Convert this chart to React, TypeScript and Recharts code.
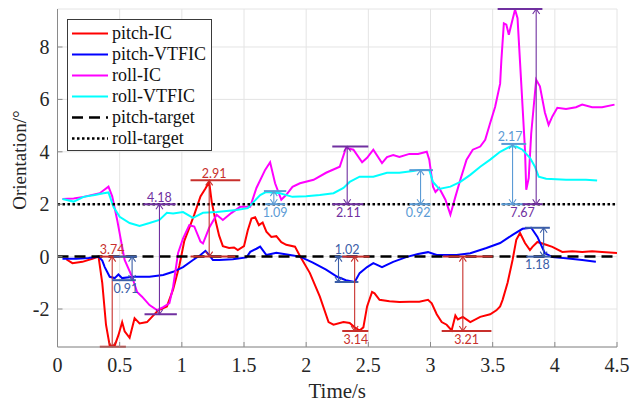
import React from "react";
import {
  LineChart,
  Line,
  XAxis,
  YAxis,
  CartesianGrid,
  Legend,
  ReferenceLine,
} from "recharts";

// time ticks and orientation ticks
const timeTicks = [0, 0.5, 1, 1.5, 2, 2.5, 3, 3.5, 4, 4.5];
const angleTicks = [-2, 0, 2, 4, 6, 8];

// pitch-IC
const pitchIcT = [
  0.07, 0.12, 0.2, 0.28, 0.33, 0.36, 0.39, 0.42, 0.46, 0.49, 0.52, 0.54, 0.58, 0.62, 0.66, 0.72,
  0.76, 0.81, 0.88, 0.93, 0.98, 1.02, 1.06, 1.1, 1.15, 1.19, 1.22, 1.24, 1.27, 1.3, 1.33, 1.38,
  1.42, 1.45, 1.5, 1.53, 1.56, 1.59, 1.62, 1.65, 1.68, 1.72, 1.76, 1.8, 1.84, 1.91, 1.95, 2.03,
  2.11, 2.18, 2.22, 2.3, 2.35, 2.39, 2.43, 2.46, 2.49, 2.53, 2.55, 2.59, 2.67, 2.75, 2.83, 2.91,
  2.98, 3.01, 3.05, 3.09, 3.13, 3.17, 3.2, 3.22, 3.26, 3.32, 3.4, 3.48, 3.53, 3.56, 3.58, 3.62,
  3.66, 3.69, 3.72, 3.76, 3.8, 3.82, 3.86, 3.93, 3.98, 4.06, 4.14, 4.22, 4.3, 4.38, 4.5,
];
const pitchIcV = [
  -0.1, -0.25, -0.2, -0.08, 0, -1.0, -2.6, -3.4, -3.4, -3.0, -2.5, -2.85, -3.1, -2.35, -2.55, -2.5,
  -2.3, -2.05, -1.9, -1.25, -0.35, 0.6, 1.1, 1.6, 2.3, 2.6, 2.85, 2.1, 1.4, 0.8, 0.4, 0.33,
  0.35, 0.25, 0.4, 1.0, 1.45, 1.5, 1.2, 1.3, 0.95, 0.75, 0.78, 0.55, 0.45, 0.38, 0.02, -0.63,
  -1.53, -2.5, -2.6, -2.5, -2.53, -2.7, -2.82, -2.7, -1.9, -1.35, -1.4, -1.65, -1.7, -1.73, -1.72, -1.72,
  -1.65, -1.78, -2.2, -2.5, -2.6, -2.82, -2.25, -2.4, -2.3, -2.5, -2.3, -2.2, -2.05, -1.9, -1.65, -1.0,
  -0.13, 0.64, 0.9, 0.52, 0.25, 0.37, 0.56, 0.45, 0.37, 0.18, 0.2, 0.18, 0.2, 0.18, 0.14,
];

// pitch-VTFIC
const pitchVtT = [
  0.04, 0.15, 0.25, 0.33, 0.36, 0.38, 0.42, 0.46, 0.49, 0.52, 0.61, 0.74, 0.85, 0.93, 1.01, 1.09,
  1.15, 1.19, 1.22, 1.25, 1.3, 1.41, 1.52, 1.55, 1.6, 1.63, 1.68, 1.76, 1.87, 1.95, 2.05, 2.16,
  2.25, 2.32, 2.39, 2.43, 2.49, 2.54, 2.61, 2.7, 2.81, 2.9, 2.98, 3.05, 3.21, 3.32, 3.45, 3.56,
  3.66, 3.74, 3.81, 3.86, 3.92, 3.98, 4.09, 4.22, 4.33,
];
const pitchVtV = [
  -0.08, -0.08, -0.05, 0, -0.15, -0.4, -0.77, -0.82, -0.68, -0.82, -0.77, -0.77, -0.7, -0.58, -0.4, -0.13,
  0.06, 0.22, 0.06, -0.13, -0.13, -0.1, -0.03, 0.18, 0.3, 0.38, 0.06, 0.15, 0.06, 0, -0.22, -0.5,
  -0.77, -0.9, -0.97, -0.63, -0.4, -0.25, -0.4, -0.2, -0.01, 0.1, 0.17, 0.06, 0.06, 0.13, 0.33, 0.52,
  0.83, 1.06, 1.1, 0.75, 0.13, -0.02, -0.06, -0.13, -0.2,
];

// roll-IC
const rollIcT = [
  0.04, 0.13, 0.21, 0.34, 0.41, 0.44, 0.48, 0.52, 0.54, 0.6, 0.64, 0.68, 0.74, 0.8, 0.85, 0.9,
  0.93, 0.97, 1.01, 1.06, 1.1, 1.15, 1.17, 1.22, 1.28, 1.33, 1.4, 1.47, 1.55, 1.6, 1.67, 1.71,
  1.75, 1.8, 1.84, 1.89, 1.95, 2.06, 2.16, 2.27, 2.32, 2.38, 2.45, 2.49, 2.54, 2.61, 2.65, 2.7,
  2.75, 2.83, 2.9, 2.97, 2.99, 3.02, 3.04, 3.07, 3.12, 3.16, 3.2, 3.24, 3.29, 3.34, 3.4, 3.44,
  3.48, 3.52, 3.56, 3.57, 3.59, 3.61, 3.63, 3.66, 3.68, 3.7, 3.73, 3.76, 3.77, 3.79, 3.81, 3.85,
  3.88, 3.92, 3.95, 3.98, 4.02, 4.09, 4.17, 4.22, 4.3, 4.38, 4.48,
];
const rollIcV = [
  2.2, 2.22, 2.28, 2.42, 2.67, 2.3, 1.4, 0.37, -0.13, -0.77, -1.35, -1.53, -1.85, -2.04, -1.93, -1.78,
  -1.15, 0.14, 0.7, 1.2, 1.15, 0.57, 0.5, 1.1, 1.6, 1.4, 1.67, 1.9, 1.9, 2.62, 3.31, 3.6,
  2.8, 2.17, 2.36, 2.66, 2.8, 2.93, 3.2, 3.43, 4.15, 4.08, 3.6, 3.77, 4.08, 3.57, 3.8, 3.88,
  3.8, 3.92, 3.92, 4.0, 3.7, 2.67, 2.47, 2.62, 2.17, 1.6, 2.28, 2.93, 3.7, 4.08, 4.2, 4.46,
  5.1, 5.72, 6.6, 7.5, 8.9, 8.85, 8.47, 9.05, 9.43, 9.1, 6.6, 4.08, 2.55, 3.0, 4.7, 6.75,
  6.5, 5.5, 5.03, 5.35, 5.68, 5.63, 5.7, 5.8, 5.7, 5.7, 5.8,
];

// roll-VTFIC
const rollVtT = [
  0.04, 0.13, 0.21, 0.3, 0.37, 0.41, 0.45, 0.5, 0.58, 0.66, 0.74, 0.82, 0.88, 0.93, 1.01, 1.09,
  1.17, 1.28, 1.44, 1.53, 1.58, 1.63, 1.68, 1.79, 1.89, 2.0, 2.11, 2.22, 2.3, 2.35, 2.43, 2.54,
  2.65, 2.75, 2.86, 2.91, 2.99, 3.02, 3.07, 3.16, 3.24, 3.32, 3.4, 3.48, 3.56, 3.64, 3.69, 3.74,
  3.8, 3.84, 3.87, 3.93, 4.09, 4.25, 4.34,
];
const rollVtV = [
  2.2, 2.1, 2.28, 2.35, 2.42, 2.45, 1.9, 1.52, 1.28, 1.17, 1.28, 1.4, 1.67, 1.65, 1.7, 1.48,
  1.67, 1.7, 1.78, 1.85, 2.1, 2.35, 2.47, 2.42, 2.28, 2.3, 2.35, 2.42, 2.62, 2.85, 3.05, 3.05,
  3.2, 3.2, 3.27, 3.31, 3.31, 2.85, 2.58, 2.67, 2.85, 3.12, 3.43, 3.7, 4.0, 4.2, 4.2, 4.08,
  3.77, 3.43, 3.05, 2.97, 2.93, 2.93, 2.9,
];

// targets
const targetT = [0, 4.5];
const pitchTargetV = [0, 0];
const rollTargetV = [2, 2];

// measured gaps: arrow time, from/to level, bar spans, label
const gapLabels = ["3.74", "0.91", "4.18", "2.91", "1.09", "2.11", "1.02", "3.14", "0.92", "3.21", "2.17", "7.67", "1.18"];
const gapColors = ["red", "blue", "purple", "red", "sky", "purple", "blue", "red", "sky", "red", "sky", "purple", "blue"];
const gapT = [0.44, 0.6, 0.82, 1.22, 1.74, 2.33, 2.26, 2.39, 2.92, 3.26, 3.66, 3.85, 3.91];
const gapFrom = [0, 0, 2, 0, 2, 2, 0, 0, 2, 0, 2, 2, 0];
const gapTo = [-3.44, -0.9, -2.2, 2.91, 2.5, 4.2, -0.97, -2.84, 3.3, -2.84, 4.3, 9.45, 1.1];
const barFromSpan = [[0.34, 0.56], [0.45, 0.64], [0.69, 0.95], [1.07, 1.43], [1.67, 1.83], [2.21, 2.46], [2.23, 2.41], [2.29, 2.51], [2.83, 3.0], [3.1, 3.5], [3.57, 3.76], [3.74, 3.9], [3.77, 3.97]];
const barToSpan = [[0.34, 0.55], [0.44, 0.63], [0.7, 0.96], [1.07, 1.47], [1.66, 1.84], [2.21, 2.5], [2.23, 2.42], [2.29, 2.5], [2.83, 3.02], [3.09, 3.49], [3.57, 3.77], [3.54, 3.9], [3.76, 3.96]];
const labelT = [0.44, 0.55, 0.82, 1.26, 1.75, 2.34, 2.33, 2.4, 2.9, 3.29, 3.64, 3.74, 3.86];
const labelLevel = ["from", "to", "from", "to", "from", "from", "from", "to", "from", "to", "to", "from", "from"];
const labelSide = ["above", "below", "above", "above", "below", "below", "above", "below", "below", "below", "above", "below", "below"];

const palette: Record<string, string> = {
  red: "#c8302c",
  blue: "#3b5ea8",
  purple: "#7030a0",
  sky: "#5b9bd5",
};

const zip = (t: number[], v: number[]) => t.map((x, i) => ({ t: x, v: v[i] }));

const series = [
  { name: "pitch-IC", data: zip(pitchIcT, pitchIcV), color: "#ff0000", width: 2, dash: undefined },
  { name: "pitch-VTFIC", data: zip(pitchVtT, pitchVtV), color: "#0000ff", width: 2, dash: undefined },
  { name: "roll-IC", data: zip(rollIcT, rollIcV), color: "#ff00ff", width: 2, dash: undefined },
  { name: "roll-VTFIC", data: zip(rollVtT, rollVtV), color: "#00ffff", width: 2, dash: undefined },
  { name: "pitch-target", data: zip(targetT, pitchTargetV), color: "#000000", width: 2.5, dash: "11 6" },
  { name: "roll-target", data: zip(targetT, rollTargetV), color: "#000000", width: 2.5, dash: "2.5 2.5" },
];

const serif = "Liberation Serif";
const frame = "#8a8a8a";
const inkGray = "#262626";

function XTick(p: any) {
  return (
    <text x={p.x} y={p.y + 15} textAnchor="middle" fontSize={20} fill={inkGray} fontFamily={serif}>
      {p.payload.value}
    </text>
  );
}

function YTick(p: any) {
  return (
    <text x={p.x} y={p.y + 7} textAnchor="end" fontSize={20} fill={inkGray} fontFamily={serif}>
      {p.payload.value}
    </text>
  );
}

function arrowShape(color: string) {
  return (p: any) => {
    const x = p.x1;
    const top = Math.min(p.y1, p.y2);
    const bot = Math.max(p.y1, p.y2);
    return (
      <g stroke={color} fill="none" strokeWidth={1.1}>
        <line x1={x} y1={top} x2={x} y2={bot} />
        <polyline points={`${x - 3.5},${top + 5} ${x},${top} ${x + 3.5},${top + 5}`} />
        <polyline points={`${x - 3.5},${bot - 5} ${x},${bot} ${x + 3.5},${bot - 5}`} />
      </g>
    );
  };
}

function barShape(color: string) {
  return (p: any) => <line x1={p.x1} y1={p.y1} x2={p.x2} y2={p.y2} stroke={color} strokeWidth={2} />;
}

function textShape(color: string, text: string, side: string) {
  return (p: any) => (
    <text
      x={p.x1}
      y={side === "above" ? p.y1 - 2.5 : p.y1 + 12.5}
      fill={color}
      textAnchor="middle"
      fontSize={12.5}
      fontFamily="Lato"
    >
      {text}
    </text>
  );
}

function LegendBox() {
  return (
    <div
      style={{
        width: 143,
        height: 124,
        padding: "3px 0",
        border: "1px solid #3a3a3a",
        background: "#fff",
        fontFamily: serif,
        fontSize: 18,
        color: "#111",
      }}
    >
      {series.map((s) => (
        <div key={s.name} style={{ height: 21, display: "flex", alignItems: "center" }}>
          <svg width={44} height={21} style={{ flex: "none" }}>
            <line x1={4} y1={10.5} x2={40} y2={10.5} stroke={s.color} strokeWidth={s.width} strokeDasharray={s.dash} />
          </svg>
          <span style={{ lineHeight: "21px", whiteSpace: "nowrap" }}>{s.name}</span>
        </div>
      ))}
    </div>
  );
}

export default function App() {
  return (
    <div style={{ position: "absolute", left: 0, top: 0, width: 632, height: 408, background: "#fff", fontFamily: serif }}>
      <LineChart width={632} height={408} margin={{ top: 9, right: 15, left: 0, bottom: 0 }}>
        <CartesianGrid stroke="#e4e4e4" strokeWidth={1} />
        <XAxis
          dataKey="t"
          type="number"
          domain={[0, 4.5]}
          ticks={timeTicks}
          allowDataOverflow
          height={61}
          stroke={frame}
          tickSize={-5}
          tickMargin={15}
          tick={<XTick />}
          label={{
            content: (props: any) => {
              const vb = props.viewBox;
              return (
                <text x={vb.x + vb.width / 2} y={vb.y + 51} textAnchor="middle" fontSize={21} fill={inkGray} fontFamily={serif}>
                  Time/s
                </text>
              );
            },
          }}
        />
        <XAxis xAxisId="top" orientation="top" type="number" domain={[0, 4.5]} ticks={timeTicks} height={0} stroke={frame} tickSize={-5} tick={false} />
        <YAxis
          type="number"
          domain={[-3.45, 9.45]}
          ticks={angleTicks}
          allowDataOverflow
          width={57.5}
          stroke={frame}
          tickSize={-5}
          tickMargin={13}
          tick={<YTick />}
          label={{
            content: (props: any) => {
              const vb = props.viewBox;
              const cx = vb.x + 19;
              const cy = vb.y + vb.height / 2 - 18;
              return (
                <text x={cx} y={cy} dy={7} transform={`rotate(-90 ${cx} ${cy})`} textAnchor="middle" fontSize={19} fill={inkGray} fontFamily={serif}>
                  Orientation/°
                </text>
              );
            },
          }}
        />
        <YAxis yAxisId="right" orientation="right" type="number" domain={[-3.45, 9.45]} ticks={angleTicks} width={0} stroke={frame} tickSize={-5} tick={false} />
        {series.map((s) => (
          <Line
            key={s.name}
            data={s.data}
            dataKey="v"
            name={s.name}
            type="linear"
            stroke={s.color}
            strokeWidth={s.width}
            strokeDasharray={s.dash}
            dot={false}
            activeDot={false}
            isAnimationActive={false}
          />
        ))}
        {gapLabels.map((lab, i) => {
          const c = palette[gapColors[i]];
          const ly = labelLevel[i] === "from" ? gapFrom[i] : gapTo[i];
          return (
            <React.Fragment key={lab + i}>
              <ReferenceLine
                ifOverflow="visible"
                segment={[{ x: barFromSpan[i][0], y: gapFrom[i] }, { x: barFromSpan[i][1], y: gapFrom[i] }]}
                shape={barShape(c)}
              />
              <ReferenceLine
                ifOverflow="visible"
                segment={[{ x: barToSpan[i][0], y: gapTo[i] }, { x: barToSpan[i][1], y: gapTo[i] }]}
                shape={barShape(c)}
              />
              <ReferenceLine
                ifOverflow="visible"
                segment={[{ x: gapT[i], y: gapFrom[i] }, { x: gapT[i], y: gapTo[i] }]}
                shape={arrowShape(c)}
              />
              <ReferenceLine
                ifOverflow="visible"
                segment={[{ x: labelT[i], y: ly }, { x: labelT[i], y: ly }]}
                shape={textShape(c, lab, labelSide[i])}
              />
            </React.Fragment>
          );
        })}
        <Legend
          layout="vertical"
          align="center"
          verticalAlign="middle"
          wrapperStyle={{ left: 67, top: 19, width: 145 }}
          content={() => <LegendBox />}
        />
      </LineChart>
    </div>
  );
}
